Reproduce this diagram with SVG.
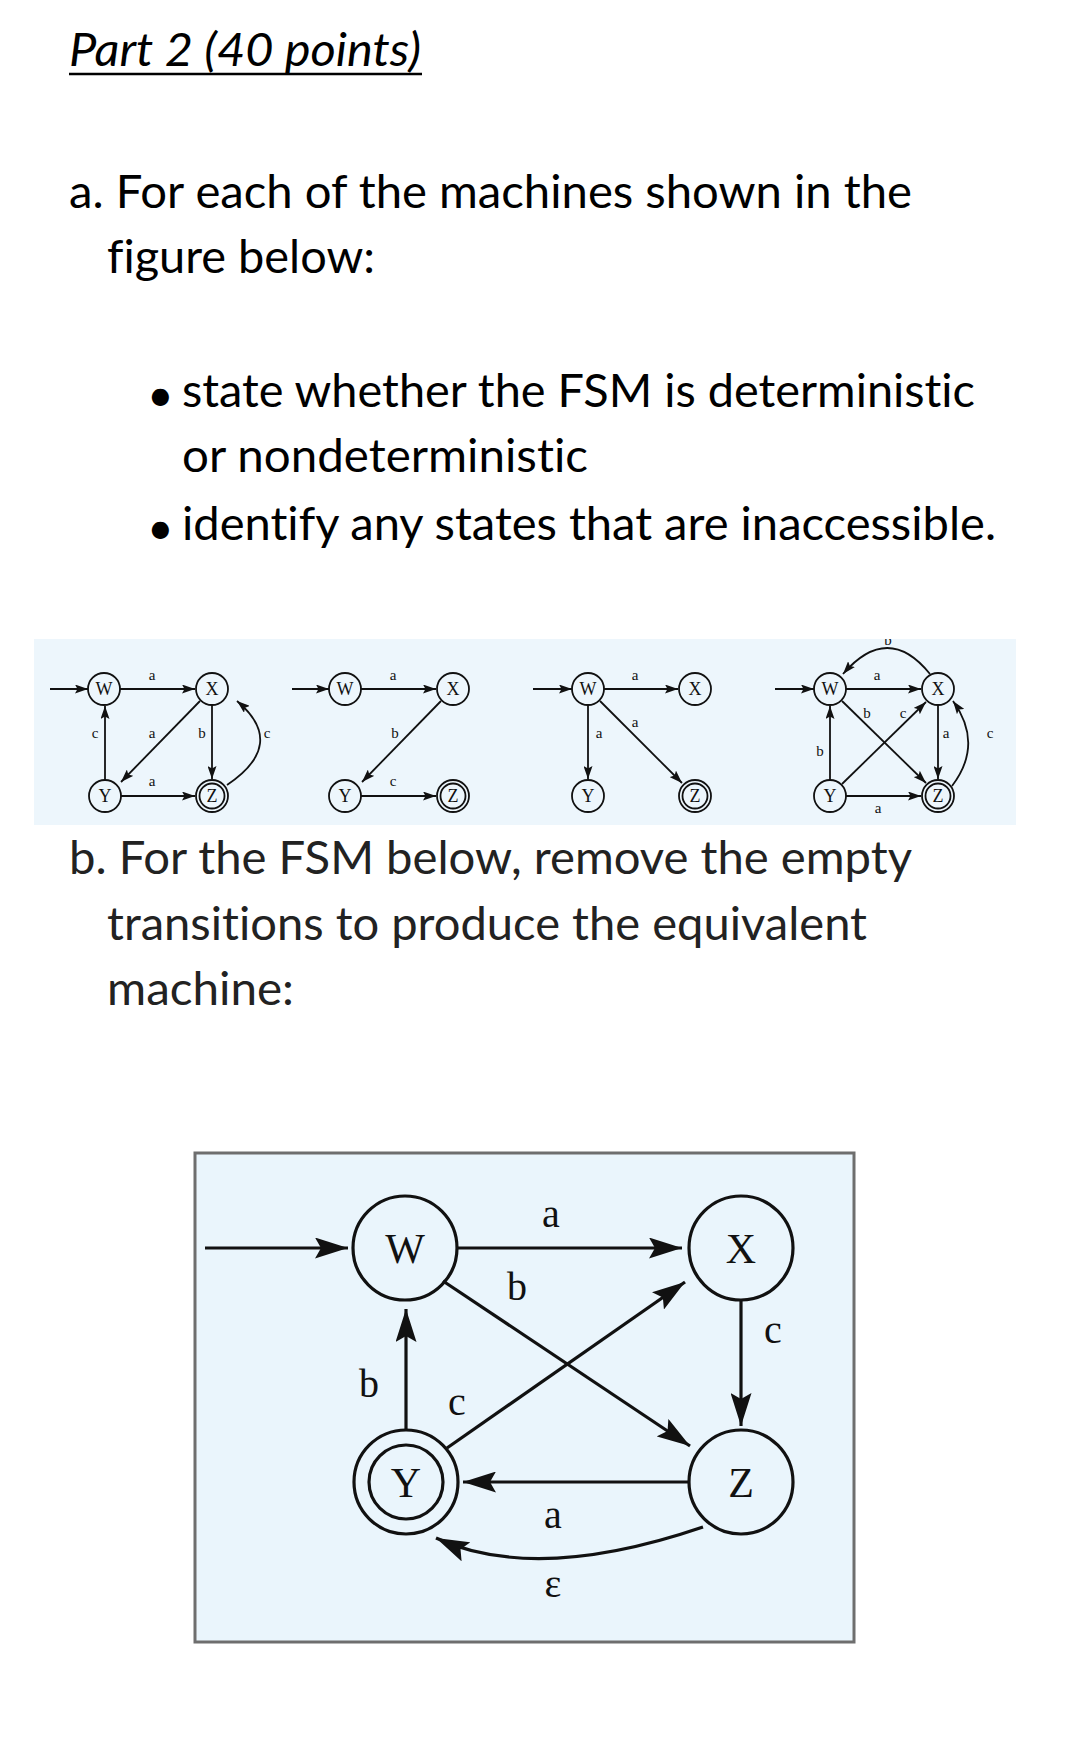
<svg xmlns="http://www.w3.org/2000/svg" width="1080" height="1755" viewBox="0 0 1080 1755">
<style>
.t{font-family:Lato,"Carlito","Liberation Sans",sans-serif;font-size:46px;fill:#000;font-variant-ligatures:none}
.tb{fill:#222}
.st{font-family:"Liberation Serif","Times New Roman",serif;font-size:18px;fill:#111;text-anchor:middle}
.sl{font-family:"Liberation Serif","Times New Roman",serif;font-size:15px;fill:#111;text-anchor:middle}
.mt{font-family:"Liberation Serif","Times New Roman",serif;font-size:42px;fill:#111;text-anchor:middle}
.ml{font-family:"Liberation Serif","Times New Roman",serif;font-size:40px;fill:#111;text-anchor:middle}
.sc{fill:none;stroke:#111;stroke-width:1.8}
.se{fill:none;stroke:#111;stroke-width:1.8;marker-end:url(#as)}
.mc{fill:none;stroke:#111;stroke-width:3.2}
.me{fill:none;stroke:#111;stroke-width:3.2;marker-end:url(#am)}
</style>
<defs>
<marker id="as" markerUnits="userSpaceOnUse" markerWidth="13" markerHeight="9" refX="13" refY="4.5" orient="auto"><path d="M0,0 L13,4.5 L0,9 L2.5,4.5 z" fill="#111"/></marker>
<marker id="am" markerUnits="userSpaceOnUse" markerWidth="33" markerHeight="21" refX="33" refY="10.5" orient="auto"><path d="M0,0 L33,10.5 L0,21 L6,10.5 z" fill="#111"/></marker>
<clipPath id="stripclip"><rect x="34" y="639" width="982" height="186"/></clipPath>
</defs>
<rect x="0" y="0" width="1080" height="1755" fill="#fff"/>

<g id="text">
<text class="t" x="69" y="66" font-style="italic" textLength="352" lengthAdjust="spacingAndGlyphs">Part 2 (40 points)</text>
<line x1="69" y1="74" x2="422" y2="74" stroke="#000" stroke-width="2.5"/>
<text class="t" x="69" y="208" textLength="843" lengthAdjust="spacingAndGlyphs">a. For each of the machines shown in the</text>
<text class="t" x="107" y="273" textLength="268" lengthAdjust="spacingAndGlyphs">figure below:</text>
<text class="t" x="147" y="411" font-size="64">•</text>
<text class="t" x="182" y="407" textLength="793" lengthAdjust="spacingAndGlyphs">state whether the FSM is deterministic</text>
<text class="t" x="182" y="472" textLength="406" lengthAdjust="spacingAndGlyphs">or nondeterministic</text>
<text class="t" x="147" y="544" font-size="64">•</text>
<text class="t" x="182" y="540" textLength="814" lengthAdjust="spacingAndGlyphs">identify any states that are inaccessible.</text>
<text class="t tb" x="69" y="874" textLength="843" lengthAdjust="spacingAndGlyphs">b. For the FSM below, remove the empty</text>
<text class="t tb" x="107" y="940" textLength="760" lengthAdjust="spacingAndGlyphs">transitions to produce the equivalent</text>
<text class="t tb" x="107" y="1005" textLength="187" lengthAdjust="spacingAndGlyphs">machine:</text>
</g>

<g id="strip">
<rect x="34" y="639" width="982" height="186" fill="#edf6fc"/>
<g clip-path="url(#stripclip)">
<g id="strip-connectors">
<!-- machine 1 -->
<line class="se" x1="50" y1="689" x2="88" y2="689"/>
<line class="se" x1="120" y1="689" x2="195" y2="689"/>
<line class="se" x1="200" y1="701" x2="121" y2="782"/>
<line class="se" x1="212" y1="705" x2="212" y2="779"/>
<path class="se" d="M227,785 Q288,744 237,701"/>
<line class="se" x1="105" y1="780" x2="105" y2="706"/>
<line class="se" x1="121" y1="796" x2="195" y2="796"/>
<text class="sl" x="152" y="680">a</text>
<text class="sl" x="152" y="738">a</text>
<text class="sl" x="202" y="738">b</text>
<text class="sl" x="267" y="738">c</text>
<text class="sl" x="95" y="738">c</text>
<text class="sl" x="152" y="786">a</text>
<!-- machine 2 -->
<line class="se" x1="292" y1="689" x2="329" y2="689"/>
<line class="se" x1="361" y1="689" x2="436" y2="689"/>
<line class="se" x1="441" y1="701" x2="362" y2="782"/>
<line class="se" x1="361" y1="796" x2="436" y2="796"/>
<text class="sl" x="393" y="680">a</text>
<text class="sl" x="395" y="738">b</text>
<text class="sl" x="393" y="786">c</text>
<!-- machine 3 -->
<line class="se" x1="533" y1="689" x2="572" y2="689"/>
<line class="se" x1="604" y1="689" x2="678" y2="689"/>
<line class="se" x1="588" y1="705" x2="588" y2="779"/>
<line class="se" x1="600" y1="701" x2="682" y2="783"/>
<text class="sl" x="635" y="680">a</text>
<text class="sl" x="635" y="727">a</text>
<text class="sl" x="599" y="738">a</text>
<!-- machine 4 -->
<line class="se" x1="775" y1="689" x2="814" y2="689"/>
<line class="se" x1="846" y1="689" x2="921" y2="689"/>
<path class="se" d="M930,674 Q888,622 843,674"/>
<line class="se" x1="842" y1="701" x2="926" y2="783"/>
<line class="se" x1="842" y1="784" x2="926" y2="702"/>
<line class="se" x1="830" y1="780" x2="830" y2="706"/>
<line class="se" x1="938" y1="705" x2="938" y2="779"/>
<path class="se" d="M952,786 Q984,744 953,701"/>
<line class="se" x1="846" y1="796" x2="921" y2="796"/>
<text class="sl" x="888" y="645">b</text>
<text class="sl" x="877" y="680">a</text>
<text class="sl" x="867" y="718">b</text>
<text class="sl" x="903" y="718">c</text>
<text class="sl" x="820" y="756">b</text>
<text class="sl" x="946" y="738">a</text>
<text class="sl" x="990" y="738">c</text>
<text class="sl" x="878" y="813">a</text>
</g>
</g>
<g id="m1-W"><circle class="sc" cx="104" cy="689" r="16"/><text class="st" x="104" y="695">W</text></g>
<g id="m1-X"><circle class="sc" cx="212" cy="689" r="16"/><text class="st" x="212" y="695">X</text></g>
<g id="m1-Y"><circle class="sc" cx="105" cy="796" r="16"/><text class="st" x="105" y="802">Y</text></g>
<g id="m1-Z"><circle class="sc" cx="212" cy="796" r="16"/><circle class="sc" cx="212" cy="796" r="12.5"/><text class="st" x="212" y="802">Z</text></g>
<g id="m2-W"><circle class="sc" cx="345" cy="689" r="16"/><text class="st" x="345" y="695">W</text></g>
<g id="m2-X"><circle class="sc" cx="453" cy="689" r="16"/><text class="st" x="453" y="695">X</text></g>
<g id="m2-Y"><circle class="sc" cx="345" cy="796" r="16"/><text class="st" x="345" y="802">Y</text></g>
<g id="m2-Z"><circle class="sc" cx="453" cy="796" r="16"/><circle class="sc" cx="453" cy="796" r="12.5"/><text class="st" x="453" y="802">Z</text></g>
<g id="m3-W"><circle class="sc" cx="588" cy="689" r="16"/><text class="st" x="588" y="695">W</text></g>
<g id="m3-X"><circle class="sc" cx="695" cy="689" r="16"/><text class="st" x="695" y="695">X</text></g>
<g id="m3-Y"><circle class="sc" cx="588" cy="796" r="16"/><text class="st" x="588" y="802">Y</text></g>
<g id="m3-Z"><circle class="sc" cx="695" cy="796" r="16"/><circle class="sc" cx="695" cy="796" r="12.5"/><text class="st" x="695" y="802">Z</text></g>
<g id="m4-W"><circle class="sc" cx="830" cy="689" r="16"/><text class="st" x="830" y="695">W</text></g>
<g id="m4-X"><circle class="sc" cx="938" cy="689" r="16"/><text class="st" x="938" y="695">X</text></g>
<g id="m4-Y"><circle class="sc" cx="830" cy="796" r="16"/><text class="st" x="830" y="802">Y</text></g>
<g id="m4-Z"><circle class="sc" cx="938" cy="796" r="16"/><circle class="sc" cx="938" cy="796" r="12.5"/><text class="st" x="938" y="802">Z</text></g>
</g>

<g id="main">
<rect x="195" y="1153" width="659" height="489" fill="#eaf5fc" stroke="#6e6e6e" stroke-width="3"/>
<g id="main-connectors">
<line class="me" x1="205" y1="1248" x2="348" y2="1248"/>
<line class="me" x1="457" y1="1248" x2="682" y2="1248"/>
<line class="me" x1="443" y1="1281" x2="690" y2="1446"/>
<line class="me" x1="447" y1="1448" x2="685" y2="1282"/>
<line class="me" x1="406" y1="1430" x2="406" y2="1309"/>
<line class="me" x1="741" y1="1300" x2="741" y2="1426"/>
<line class="me" x1="689" y1="1482" x2="463" y2="1482"/>
<path class="me" d="M703,1527 Q536,1584 436,1538"/>
<text class="ml" x="551" y="1227">a</text>
<text class="ml" x="517" y="1300">b</text>
<text class="ml" x="457" y="1415">c</text>
<text class="ml" x="369" y="1397">b</text>
<text class="ml" x="773" y="1343">c</text>
<text class="ml" x="553" y="1528">a</text>
<text class="ml" x="553" y="1597">ε</text>
</g>
<g id="W"><circle class="mc" cx="405" cy="1248" r="52"/><text class="mt" x="405" y="1263">W</text></g>
<g id="X"><circle class="mc" cx="741" cy="1248" r="52"/><text class="mt" x="741" y="1263">X</text></g>
<g id="Y"><circle class="mc" cx="406" cy="1482" r="52"/><circle class="mc" cx="406" cy="1482" r="37"/><text class="mt" x="406" y="1497">Y</text></g>
<g id="Z"><circle class="mc" cx="741" cy="1482" r="52"/><text class="mt" x="741" y="1497">Z</text></g>
</g>
</svg>
